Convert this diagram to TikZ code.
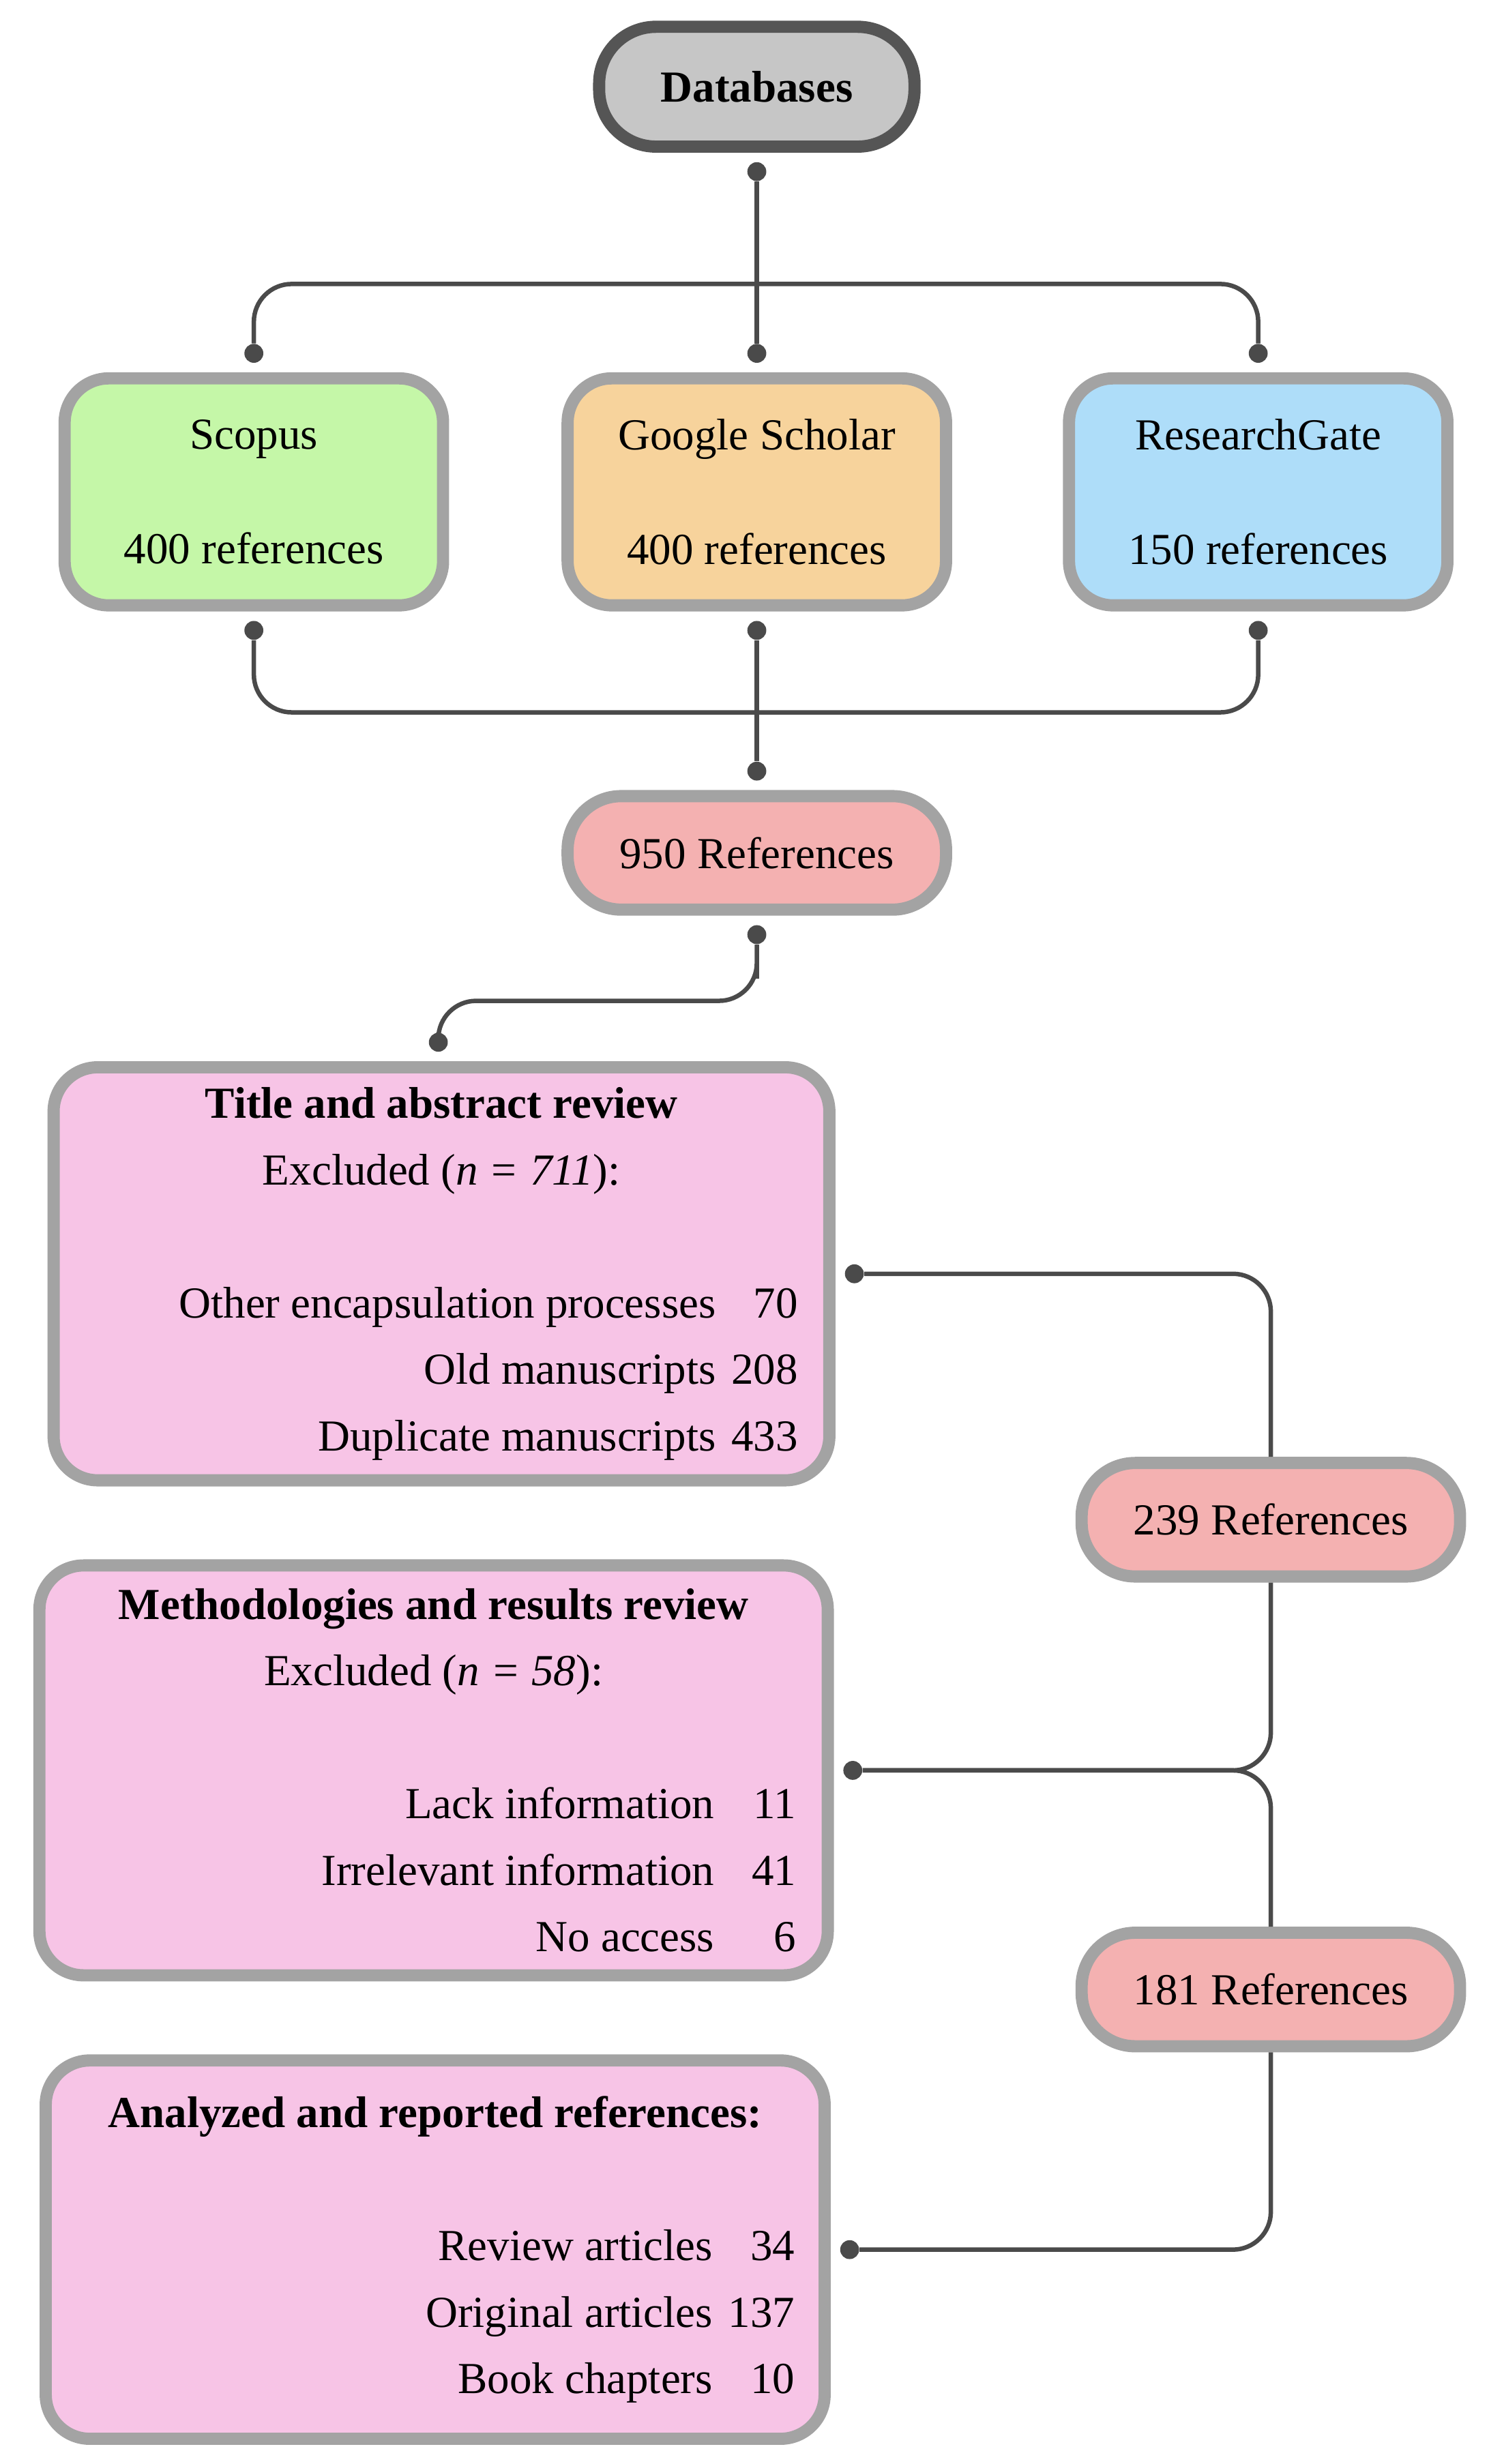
\documentclass[tikz,border=0pt]{standalone}
\usepackage{fontspec}
\setmainfont{Liberation Serif}
\usetikzlibrary{positioning, arrows.meta}
\definecolor{bordergray}{HTML}{A3A3A3}
\definecolor{darkborder}{HTML}{555555}
\definecolor{linegray}{HTML}{4A4A4A}
\definecolor{scopusgreen}{HTML}{C5F7A8}
\definecolor{scholarorange}{HTML}{F7D39C}
\definecolor{rgblue}{HTML}{AEDDF9}
\definecolor{refred}{HTML}{F4B1B1}
\definecolor{reviewpink}{HTML}{F7C4E6}
\newcommand{\hd}[1]{\makebox[\linewidth][c]{#1}}
\newcommand{\nm}[1]{\makebox[1.3cm][r]{#1}}
\tikzset{
	box/.style={draw=bordergray, line width=5.5pt, rounded corners=0.7cm, align=center,
		font=\fontsize{20}{26}\selectfont, inner sep=0pt},
	src/.style={box, minimum width=6cm, minimum height=3.6cm},
	refs/.style={box, fill=refred, minimum width=6cm, minimum height=1.8cm, rounded corners=0.85cm},
	review/.style={box, fill=reviewpink, align=flush right, font=\fontsize{20}{30}\selectfont},
	link/.style={draw=linegray, line width=2pt, rounded corners=0.6cm},
	dot/.style={fill=linegray, draw=none, circle, minimum size=0.3cm, inner sep=0pt}
}
\begin{document}
\begin{tikzpicture}
\useasboundingbox (0,0) rectangle (23.6,-39.075);

\node[box, fill=gray!45, draw=darkborder, minimum width=5cm, minimum height=1.9cm, rounded corners=0.9cm] (db) at (12,-1.375) {\textbf{Databases}};

\node[src, fill=scopusgreen] (sc) at (4.025,-7.8) {Scopus\\[0.9cm]400 references};
\node[src, fill=scholarorange] (gs) at (12,-7.8) {Google Scholar\\[0.9cm]400 references};
\node[src, fill=rgblue] (rg) at (19.95,-7.8) {ResearchGate\\[0.9cm]150 references};

\node[refs] (r950) at (12,-13.525) {950 References};

\node[review, minimum width=12.3cm, minimum height=6.55cm, text width=11.3cm] (tar) at (7,-20.2) {%
\hd{\textbf{Title and abstract review}}\\
\hd{Excluded (\textit{n = 711}):}\\[30pt]
Other encapsulation processes\nm{70}\\
Old manuscripts\nm{208}\\
Duplicate manuscripts\nm{433}};

\node[refs] (r239) at (20.15,-24.1) {239 References};

\node[review, minimum width=12.5cm, minimum height=6.5cm, text width=11.5cm] (mrr) at (6.875,-28.075) {%
\hd{\textbf{Methodologies and results review}}\\
\hd{Excluded (\textit{n = 58}):}\\[30pt]
Lack information\nm{11}\\
Irrelevant information\nm{41}\\
No access\nm{6}};

\node[refs] (r181) at (20.15,-31.55) {181 References};

\node[review, minimum width=12.35cm, minimum height=6cm, text width=11.4cm] (arr) at (6.9,-35.675) {%
\hd{\textbf{Analyzed and reported references:}}\\[30pt]
Review articles\nm{34}\\
Original articles\nm{137}\\
Book chapters\nm{10}};

% dots
\node[dot] (dbb) at ([yshift=-0.3cm]db.south) {};
\node[dot] (sct) at ([yshift=0.3cm]sc.north) {};
\node[dot] (gst) at ([yshift=0.3cm]gs.north) {};
\node[dot] (rgt) at ([yshift=0.3cm]rg.north) {};
\node[dot] (scb) at ([yshift=-0.3cm]sc.south) {};
\node[dot] (gsb) at ([yshift=-0.3cm]gs.south) {};
\node[dot] (rgb) at ([yshift=-0.3cm]rg.south) {};
\node[dot] (r950t) at ([yshift=0.3cm]r950.north) {};
\node[dot] (r950b) at ([yshift=-0.3cm]r950.south) {};
\node[dot] (tart) at ([xshift=-0.05cm, yshift=0.3cm]tar.north) {};
\node[dot] (tare) at ([xshift=0.3cm]tar.east) {};
\node[dot] (mrre) at ([xshift=0.3cm]mrr.east) {};
\node[dot] (arre) at ([xshift=0.3cm]arr.east) {};

% connectors
\draw[link] (dbb) -- (gst);
\draw[link] (sct) |- ([yshift=1.1cm]gst.center) -| (rgt);
\draw[link] (scb) |- ([yshift=-1.3cm]gsb.center) -| (rgb);
\draw[link] (gsb) -- (r950t);
\draw[link] (r950b) |- ([yshift=-1.05cm]r950b.center) -| (tart);
\draw[link] (tare) -| (r239.north);
\draw[link] (r239.south) |- (mrre);
\draw[link] (mrre) -| (r181.north);
\draw[link] (r181.south) |- (arre);
\end{tikzpicture}
\end{document}
